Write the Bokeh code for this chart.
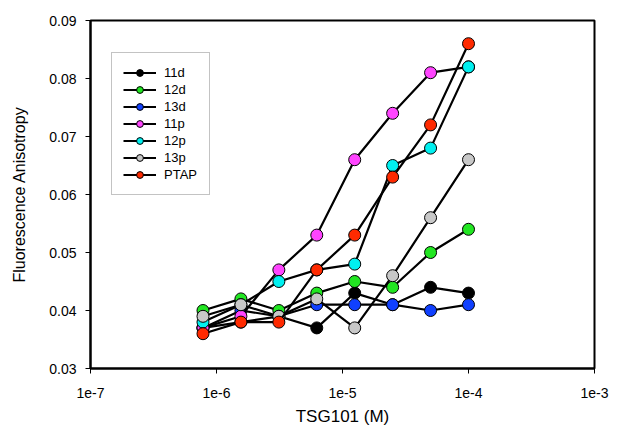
from bokeh.plotting import figure
from bokeh.embed import file_html
from bokeh.resources import INLINE
from bokeh.models import (NumeralTickFormatter, CustomJSTickFormatter, FixedTicker,
                          Range1d, Legend, LegendItem)

conc = [7.8125e-7, 1.5625e-6, 3.125e-6, 6.25e-6, 1.25e-5, 2.5e-5, 5e-5, 1e-4]

s11d = [0.037, 0.038, 0.039, 0.037, 0.043, 0.041, 0.044, 0.043]
s12d = [0.040, 0.042, 0.040, 0.043, 0.045, 0.044, 0.050, 0.054]
s13d = [0.037, 0.040, 0.039, 0.041, 0.041, 0.041, 0.040, 0.041]
s11p = [0.037, 0.039, 0.047, 0.053, 0.066, 0.074, 0.081, 0.082]
s12p = [0.038, 0.041, 0.045, 0.047, 0.048, 0.065, 0.068, 0.082]
s13p = [0.039, 0.041, 0.039, 0.042, 0.037, 0.046, 0.056, 0.066]
sPTAP = [0.036, 0.038, 0.038, 0.047, 0.053, 0.063, 0.072, 0.086]

names = ["11d", "12d", "13d", "11p", "12p", "13p", "PTAP"]
series = [s11d, s12d, s13d, s11p, s12p, s13p, sPTAP]
colors = ["#000000", "#22e622", "#1040ff", "#ff44ff", "#00f0f0", "#c8c8c8", "#ff2a00"]

x_ticks = [1e-7, 1e-6, 1e-5, 1e-4, 1e-3]
y_ticks = [0.03, 0.04, 0.05, 0.06, 0.07, 0.08, 0.09]

FONT = "Liberation Sans"

p = figure(width=610, height=428, x_axis_type="log", output_backend="svg",
           toolbar_location=None,
           x_range=Range1d(1e-7, 1e-3), y_range=Range1d(0.03, 0.09),
           min_border_left=90, min_border_right=16, min_border_top=20, min_border_bottom=53)
p.grid.visible = False
p.outline_line_color = "black"
p.outline_line_width = 2
p.background_fill_color = "white"
p.border_fill_color = "white"

items = []
for name, vals, col in zip(names, series, colors):
    r1 = p.line(conc, vals, line_color="black", line_width=2.2)
    r2 = p.scatter(conc, vals, size=12, fill_color=col, line_color="black", line_width=1)
    items.append(LegendItem(label=name, renderers=[r1, r2]))

legend = Legend(items=items, location=(21, 173))
legend.label_text_font = FONT
legend.label_text_font_size = "13px"
legend.label_text_color = "black"
legend.label_standoff = 8
legend.label_width = 34
legend.glyph_width = 33
legend.glyph_height = 17
legend.label_height = 17
legend.spacing = 0
legend.padding = 11
legend.margin = 0
legend.border_line_color = "#888888"
legend.border_line_width = 1
legend.background_fill_alpha = 1
p.add_layout(legend, "center")

p.xaxis.ticker = FixedTicker(ticks=x_ticks)
p.xaxis.formatter = CustomJSTickFormatter(code="return '1e' + Math.round(Math.log10(tick));")
p.yaxis.ticker = FixedTicker(ticks=y_ticks)
p.yaxis.formatter = NumeralTickFormatter(format="0.00")

for ax in (p.xaxis, p.yaxis):
    ax.axis_line_width = 2
    ax.axis_line_color = "black"
    ax.major_tick_out = 5
    ax.major_tick_in = 0
    ax.minor_tick_out = 0
    ax.minor_tick_in = 0
    ax.major_tick_line_color = "black"
    ax.major_label_text_font = FONT
    ax.major_label_text_font_size = "14px"
    ax.major_label_text_color = "black"
    ax.axis_label_text_font = FONT
    ax.axis_label_text_color = "black"
    ax.axis_label_text_font_style = "normal"

p.xaxis.axis_label = "TSG101 (M)"
p.yaxis.axis_label = "Fluorescence Anisotropy"
p.xaxis.axis_label_text_font_size = "17px"
p.yaxis.axis_label_text_font_size = "16px"
p.xaxis.major_label_standoff = 14
p.yaxis.major_label_standoff = 9
p.xaxis.axis_label_standoff = 6
p.yaxis.axis_label_standoff = 18

open("out.html", "w").write(file_html(p, INLINE))
